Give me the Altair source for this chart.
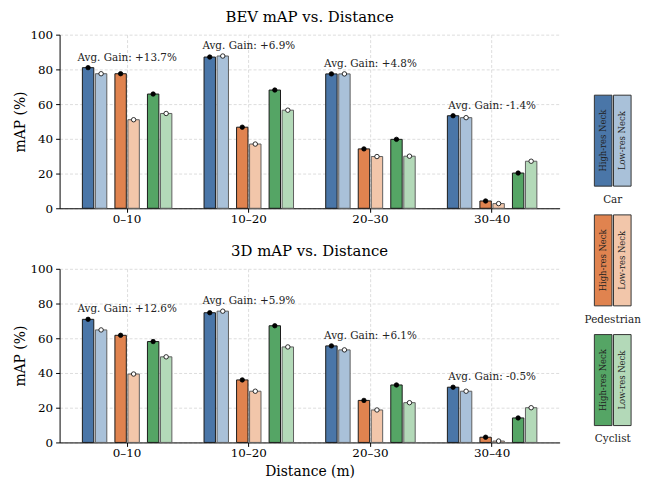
import altair as alt
import pandas as pd

groups = ["0–10", "10–20", "20–30", "30–40"]
classes = ["Car", "Pedestrian", "Cyclist"]
variants = ["High-res Neck", "Low-res Neck"]

bev_car_high = [81.0, 87.1, 77.4, 53.3]
bev_car_low = [77.5, 87.7, 77.4, 52.2]
bev_ped_high = [77.5, 46.7, 34.2, 4.2]
bev_ped_low = [51.0, 37.0, 29.8, 2.7]
bev_cyc_high = [65.8, 68.1, 39.7, 20.3]
bev_cyc_low = [54.6, 56.5, 30.0, 27.1]
bev_gain = ["+13.7%", "+6.9%", "+4.8%", "-1.4%"]

d3_car_high = [70.9, 74.7, 55.6, 31.8]
d3_car_low = [64.8, 75.6, 53.3, 29.5]
d3_ped_high = [61.7, 36.0, 24.2, 3.0]
d3_ped_low = [39.4, 29.5, 18.7, 0.8]
d3_cyc_high = [58.1, 67.2, 33.1, 14.1]
d3_cyc_low = [49.3, 55.0, 22.9, 20.0]
d3_gain = ["+12.6%", "+5.9%", "+6.1%", "-0.5%"]

slot_keys = ["Car|H", "Car|L", "Pedestrian|H", "Pedestrian|L", "Cyclist|H", "Cyclist|L"]
slot_colors = ["#4a76a8", "#a9c1d9", "#e0834f", "#f2c6aa", "#55a565", "#b3d9b8"]
offset_domain = ["_a", "_b", "Car|H", "_1", "Car|L", "_2", "_3", "Pedestrian|H", "_4",
                 "Pedestrian|L", "_5", "_6", "Cyclist|H", "_7", "Cyclist|L", "_c", "_d"]

FONT = "DejaVu Serif"


def build_df(series):
    rows = []
    for cls, high, low in series:
        for i, g in enumerate(groups):
            rows.append({"group": g, "cls": cls, "variant": variants[0],
                         "slot": cls + "|H", "value": high[i]})
            rows.append({"group": g, "cls": cls, "variant": variants[1],
                         "slot": cls + "|L", "value": low[i]})
    return pd.DataFrame(rows)


bev_df = build_df([("Car", bev_car_high, bev_car_low),
                   ("Pedestrian", bev_ped_high, bev_ped_low),
                   ("Cyclist", bev_cyc_high, bev_cyc_low)])
d3_df = build_df([("Car", d3_car_high, d3_car_low),
                  ("Pedestrian", d3_ped_high, d3_ped_low),
                  ("Cyclist", d3_cyc_high, d3_cyc_low)])
bev_gain_df = pd.DataFrame({"group": groups, "label": ["Avg. Gain: " + g for g in bev_gain]})
d3_gain_df = pd.DataFrame({"group": groups, "label": ["Avg. Gain: " + g for g in d3_gain]})

color_scale = alt.Scale(domain=slot_keys, range=slot_colors)


def panel(df, gdf, title, xtitle):
    xenc = alt.X("group:N", sort=groups,
                 scale=alt.Scale(domain=groups, paddingInner=0, paddingOuter=0.055),
                 axis=alt.Axis(title=xtitle, labelAngle=0, tickSize=4, labelFontSize=12,
                               titleFontSize=14, labelPadding=1, titlePadding=6,
                               grid=True))
    xoff = alt.XOffset("slot:N", scale=alt.Scale(domain=offset_domain, paddingInner=0,
                                                  paddingOuter=0.85))
    yenc = alt.Y("value:Q", scale=alt.Scale(domain=[0, 100]),
                 axis=alt.Axis(title="mAP (%)", values=[0, 20, 40, 60, 80, 100],
                               tickCount=6, labelOverlap=False,
                               tickSize=4, labelFontSize=12, titleFontSize=14,
                               labelPadding=3, titlePadding=2, grid=True))
    base = alt.Chart(df)
    bars = base.mark_bar(size=11.5, strokeWidth=1).encode(
        x=xenc, xOffset=xoff, y=yenc,
        color=alt.Color("slot:N", scale=color_scale, legend=None),
        stroke=alt.Stroke("variant:N", scale=alt.Scale(domain=variants,
                                                       range=["#1a1a1a", "#5e5e5e"]),
                          legend=None),
    )
    pts = base.mark_point(filled=True, size=20, stroke="black", strokeWidth=0.8,
                          opacity=1).encode(
        x=xenc, xOffset=xoff, y="value:Q",
        fill=alt.Fill("variant:N", scale=alt.Scale(domain=variants, range=["black", "white"]),
                      legend=None),
    )
    txt = base.transform_aggregate(
        maxv="max(value)", groupby=["group"]
    ).transform_lookup(
        lookup="group", from_=alt.LookupData(gdf, "group", ["label"])
    ).mark_text(baseline="bottom", dy=-5, fontSize=10.5, color="#222222", font=FONT).encode(
        x=alt.X("group:N"), y=alt.Y("maxv:Q"), text="label:N"
    )
    return alt.layer(bars, pts, txt).properties(
        width=504, height=175,
        title=alt.TitleParams(title, fontSize=15, font=FONT, fontWeight="normal",
                              offset=4, color="black"),
    )


top = panel(bev_df, bev_gain_df, "BEV mAP vs. Distance", None)
bottom = panel(d3_df, d3_gain_df, "3D mAP vs. Distance", "Distance (m)")

leg_rows = []
for cls in classes:
    leg_rows.append({"cls": cls, "variant": variants[0], "slot": cls + "|H"})
    leg_rows.append({"cls": cls, "variant": variants[1], "slot": cls + "|L"})
leg_df = pd.DataFrame(leg_rows)
cls_df = pd.DataFrame({"cls": classes})

lx = alt.X("variant:N", scale=alt.Scale(domain=variants, paddingInner=0.08, paddingOuter=0),
           axis=None)
ly = alt.Y("cls:N", scale=alt.Scale(domain=classes, range=[61, 394], paddingInner=0.24,
                                    paddingOuter=0), axis=None)
leg_rect = alt.Chart(leg_df).mark_rect(stroke="#333333", strokeWidth=1).encode(
    x=lx, y=ly, color=alt.Color("slot:N", scale=color_scale, legend=None))
leg_txt = alt.Chart(leg_df).mark_text(angle=270, fontSize=8.5, color="#222222",
                                      font=FONT).encode(
    x=alt.X("variant:N"), y=alt.Y("cls:N"), text="variant:N")
leg_lab = alt.Chart(cls_df).mark_text(fontSize=10.5, baseline="middle", dy=14,
                                      color="#222222", font=FONT).encode(
    y=alt.Y("cls:N", bandPosition=1), text="cls:N")
legend = alt.layer(leg_rect, leg_txt, leg_lab).properties(width=37, height=410)

chart = alt.hconcat(
    alt.vconcat(top, bottom, spacing=20),
    legend, spacing=25,
).properties(
    padding={"left": 6, "top": 0, "right": 0, "bottom": 0}
).configure_view(stroke=None).configure_axis(
    labelFont=FONT, titleFont=FONT, labelColor="black", titleColor="black",
    domainColor="black", tickColor="black", domainWidth=1, tickWidth=1,
    titleFontWeight="normal", gridColor="#d4d4d4", gridDash=[3, 2], gridWidth=0.8,
).configure_title(fontWeight="normal").configure_text(font=FONT)

chart.save("out.html", embed_options={"renderer": "svg", "actions": False})
